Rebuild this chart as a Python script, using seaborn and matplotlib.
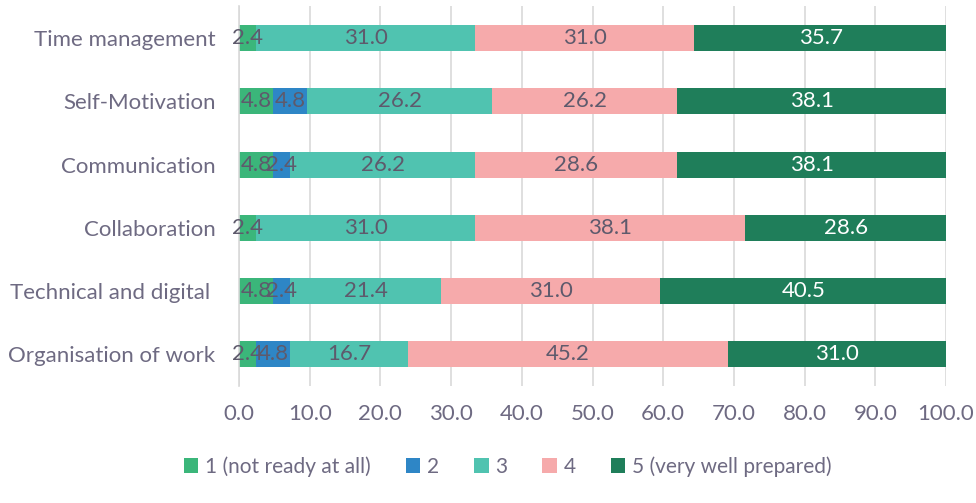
import matplotlib
matplotlib.use("Agg")
import matplotlib.pyplot as plt
from matplotlib.patches import Patch
import numpy as np
import pandas as pd
import seaborn as sns

categories = ["Time management", "Self-Motivation", "Communication",
              "Collaboration", "Technical and digital ", "Organisation of work"]
series_names = ["1 (not ready at all)", "2", "3", "4", "5 (very well prepared)"]
s1 = [2.4, 4.8, 4.8, 2.4, 4.8, 2.4]
s2 = [0.0, 4.8, 2.4, 0.0, 2.4, 4.8]
s3 = [31.0, 26.2, 26.2, 31.0, 21.4, 16.7]
s4 = [31.0, 26.2, 28.6, 38.1, 31.0, 45.2]
s5 = [35.7, 38.1, 38.1, 28.6, 40.5, 31.0]
x_ticks = [0, 10, 20, 30, 40, 50, 60, 70, 80, 90, 100]

colors = ["#3BB67A", "#2E86C6", "#50C3B0", "#F6AAAB", "#1F7E5A"]
label_colors = ["#5E5A6C", "#5E5A6C", "#5E5A6C", "#5E5A6C", "#FFFFFF"]
text_color = "#6E6A82"

sns.set_theme(style="white")
plt.rcParams["font.family"] = ["Lato", "DejaVu Sans"]

values = np.array([s1, s2, s3, s4, s5])
cum = np.cumsum(values, axis=0)

fig = plt.figure(figsize=(9.76, 5.03), dpi=100)
ax = fig.add_axes([0.2449, 0.2326, 0.7244, 0.7547])

# stacked bars: draw cumulative totals from the outermost series inward
for i in range(len(series_names) - 1, -1, -1):
    df = pd.DataFrame({"cat": categories, "val": cum[i]})
    sns.barplot(data=df, x="val", y="cat", orient="h", color=colors[i],
                width=0.41, saturation=1, ax=ax, edgecolor="none", linewidth=0)

# segment value labels
for i in range(len(series_names)):
    for j, cat in enumerate(categories):
        v = values[i, j]
        if v <= 0:
            continue
        ax.text(cum[i, j] - v / 2, j, f"{v:.1f}", ha="center", va="center",
                fontsize=16, color=label_colors[i])

ax.set_xlim(0, 100)
ax.set_ylim(len(categories) - 0.5, -0.5)
ax.set_xticks(x_ticks)
ax.set_xticklabels([f"{t:.1f}" for t in x_ticks])
ax.set_xlabel("")
ax.set_ylabel("")
ax.xaxis.grid(True, color="#D9D9D9", linewidth=1.2)
ax.set_axisbelow(True)
for side in ["top", "right", "bottom"]:
    ax.spines[side].set_visible(False)
ax.spines["left"].set_color("#D9D9D9")
ax.spines["left"].set_linewidth(1.2)
ax.tick_params(axis="both", length=0, labelsize=16, colors=text_color)
ax.tick_params(axis="y", pad=17)
ax.tick_params(axis="x", pad=13)

handles = [Patch(facecolor=c, edgecolor="none") for c in colors]
fig.legend(handles, series_names, loc="center", bbox_to_anchor=(0.52, 0.072),
           ncol=5, frameon=False, fontsize=15, labelcolor=text_color,
           handlelength=0.7, handleheight=0.7, handletextpad=0.3,
           columnspacing=1.7)

fig.savefig("out.png", dpi=100)
